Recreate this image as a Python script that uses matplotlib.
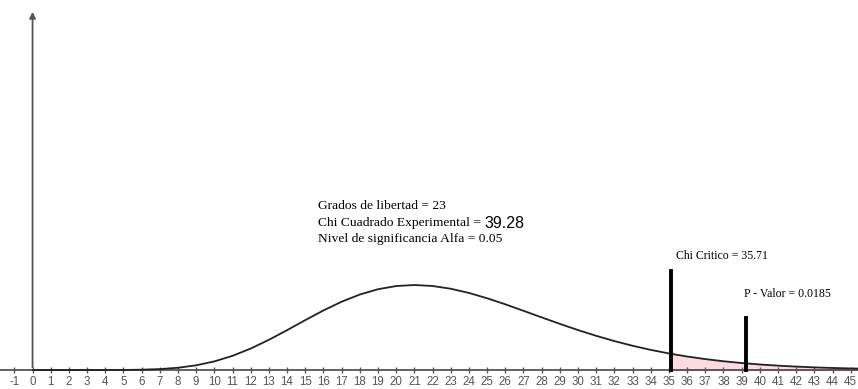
import numpy as np
import matplotlib.pyplot as plt

# chi-square density (df = 23)
x_vals = [0, 1, 2, 3, 4, 5, 6, 7, 8, 9, 10, 11, 12, 13, 14, 15, 16, 17, 18, 19, 20,
          21, 22, 23, 24, 25, 26, 27, 28, 29, 30, 31, 32, 33, 34, 35, 35.12, 36, 37,
          38, 39, 40, 41, 42, 43, 44, 45, 46]
y_vals = [0.0, 0.0, 0.0, 0.0, 0.00001, 0.00005, 0.00021, 0.00066, 0.00162, 0.00337,
          0.00618, 0.0102, 0.01543, 0.02169, 0.02865, 0.03585, 0.04283, 0.04909,
          0.05427, 0.05807, 0.06036, 0.0611, 0.0604, 0.05842, 0.0554, 0.05158,
          0.04723, 0.04257, 0.03783, 0.03317, 0.02872, 0.02457, 0.0208, 0.01743,
          0.01447, 0.0119, 0.01163, 0.0097, 0.00784, 0.00629, 0.00502, 0.00397,
          0.00312, 0.00244, 0.00189, 0.00146, 0.00112, 0.00086]

chi_critico = 35.12
chi_exp = 39.25
line_heights = [0.0714, 0.0374]
xticks = list(range(-1, 46))

x = np.array(x_vals)
y = np.array(y_vals)

fig = plt.figure(figsize=(8.58, 3.89), dpi=100)
ax = fig.add_axes([0, 0, 1, 1])
ax.set_xlim(-1.79, 45.4)
ax.set_ylim(-0.01366, 0.266)

# shaded rejection region
mask = x >= chi_critico
ax.fill_between(x[mask], 0, y[mask], color='#fcdbe3', zorder=1)
ax.plot([chi_critico, chi_critico], [0, y[x == chi_critico][0]], color='#e8557a', lw=1.2, zorder=2)
ax.plot(x[mask], np.zeros(mask.sum()), color='#e8557a', lw=1.2, zorder=2)

ax.plot(x, y, color='#222222', lw=1.3, zorder=3)

# vertical markers
ax.plot([chi_critico, chi_critico], [0, line_heights[0]], color='black', lw=2.8, zorder=4)
ax.plot([chi_exp, chi_exp], [0, line_heights[1]], color='black', lw=2.8, zorder=4)

# axes
ax.spines[['top', 'right', 'left']].set_visible(False)
ax.spines['bottom'].set_position(('data', 0))
ax.spines['bottom'].set_color('#555555')
ax.spines['bottom'].set_linewidth(1.3)
ax.set_xticks(xticks)
ax.set_xticklabels([str(t) for t in xticks], family='Liberation Sans', fontsize=8.3, color='#555555')
ax.tick_params(axis='x', direction='inout', length=4, width=1, color='#555555', pad=2)
ax.set_yticks([])
ax.annotate('', xy=(0, 0.2595), xytext=(0, 0),
            arrowprops=dict(arrowstyle='-|>', color='#555555', lw=1.3, mutation_scale=9))

serif = 'Liberation Serif'
ax.text(15.7, 0.1180, 'Grados de libertad = 23', family=serif, fontsize=9.7, va='center')
t2 = ax.text(15.7, 0.1055, 'Chi Cuadrado Experimental = ', family=serif, fontsize=9.7, va='center')
ax.annotate('39.28', xy=(1, 0.45), xycoords=t2, va='center', ha='left',
            family='Liberation Sans', fontsize=11.5)
ax.text(15.7, 0.0940, 'Nivel de significancia Alfa = 0.05', family=serif, fontsize=9.7, va='center')
ax.text(35.4, 0.0822, 'Chi Critico = 35.71', family=serif, fontsize=8.5, va='center')
ax.text(39.15, 0.0548, 'P - Valor = 0.0185', family=serif, fontsize=8.5, va='center')

fig.savefig('out.png', dpi=100)
